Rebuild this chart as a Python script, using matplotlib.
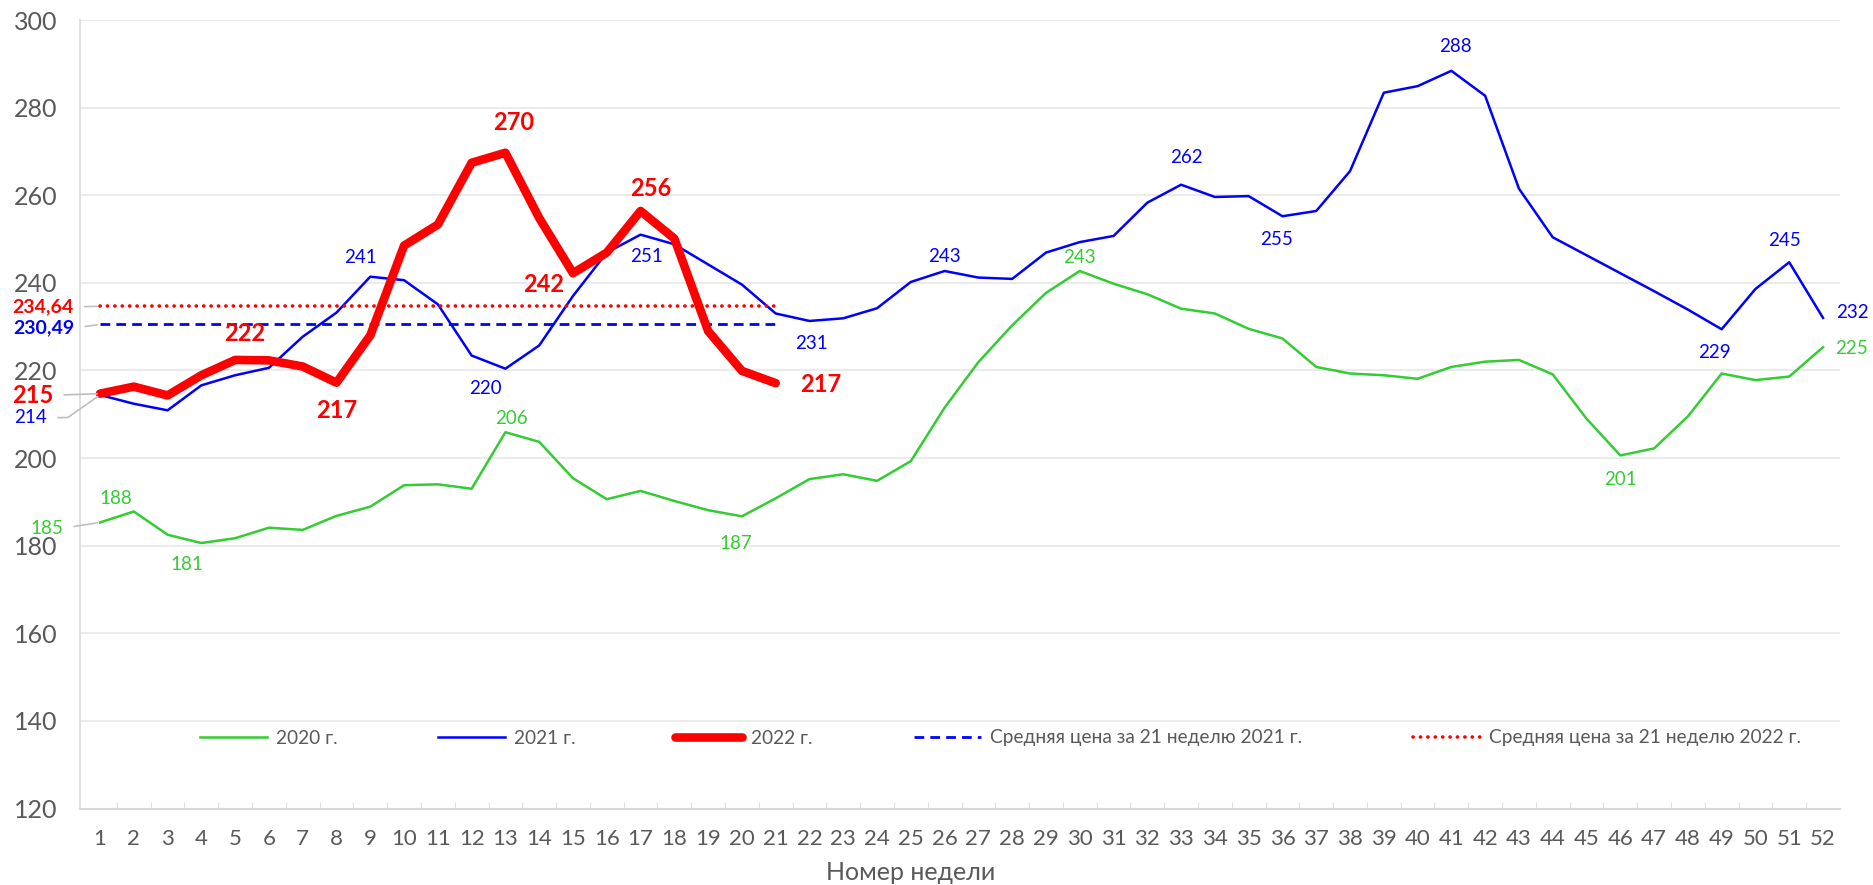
import numpy as np
import matplotlib
matplotlib.use("Agg")
import matplotlib.pyplot as plt
from matplotlib.ticker import FixedLocator

plt.rcParams['font.family'] = ['Lato', 'DejaVu Sans']

weeks = np.arange(1, 53)
y2020 = [185.3, 187.8, 182.5, 180.6, 181.7, 184.1, 183.6, 186.8, 188.9, 193.8,
         194.0, 193.0, 205.9, 203.7, 195.4, 190.6, 192.5, 190.2, 188.1, 186.7,
         190.8, 195.2, 196.3, 194.8, 199.3, 211.5, 221.9, 230.3, 237.7, 242.7,
         239.8, 237.4, 234.1, 233.0, 229.5, 227.3, 220.8, 219.3, 218.9, 218.1,
         220.8, 222.0, 222.4, 219.1, 209.0, 200.6, 202.2, 209.5, 219.3, 217.8,
         218.6, 225.3]
y2021 = [214.4, 212.4, 210.9, 216.6, 218.9, 220.6, 227.7, 233.2, 241.4, 240.6,
         235.1, 223.4, 220.4, 225.7, 237.0, 246.9, 251.0, 248.8, 244.2, 239.6,
         233.0, 231.3, 231.9, 234.2, 240.2, 242.7, 241.2, 240.9, 246.9, 249.3,
         250.7, 258.3, 262.4, 259.6, 259.8, 255.2, 256.4, 265.5, 283.4, 284.9,
         288.4, 282.7, 261.5, 250.4, 246.3, 242.2, 238.1, 233.9, 229.4, 238.6,
         244.7, 232.0]
y2022 = [214.7, 216.3, 214.3, 218.9, 222.4, 222.3, 220.9, 217.2, 228.0, 248.5,
         253.3, 267.4, 269.7, 254.8, 242.2, 246.9, 256.4, 250.1, 229.0, 219.9,
         217.1]
avg2021 = 230.49
avg2022 = 234.64

labels_legend = ['2020 г.', '2021 г.', '2022 г.',
                 'Средняя цена за 21 неделю 2021 г.',
                 'Средняя цена за 21 неделю 2022 г.']

GREEN = '#33CC33'
BLUE = '#0000FF'
RED = '#FF0000'
GRAY = '#595959'
LEAD = '#BFBFBF'

W, H = 1873, 885
fig = plt.figure(figsize=(W / 100, H / 100), dpi=100)
ax = fig.add_axes([80 / W, 1 - 808.5 / H, (1840 - 80) / W, (808.5 - 20) / H])

l20, = ax.plot(weeks, y2020, color=GREEN, lw=1.8, zorder=3)
l21, = ax.plot(weeks, y2021, color=BLUE, lw=1.8, zorder=4)
n22 = len(y2022)
la21, = ax.plot([weeks[0], weeks[n22 - 1]], [avg2021, avg2021], color=BLUE,
                lw=2.0, linestyle=(0, (3.5, 2.2)), zorder=5)
la22, = ax.plot([weeks[0], weeks[n22 - 1]], [avg2022, avg2022], color=RED,
                lw=2.6, linestyle=(0, (0.05, 2.0)), dash_capstyle='round', zorder=5)
l22, = ax.plot(weeks[:n22], y2022, color=RED, lw=6.2, solid_capstyle='round',
               solid_joinstyle='round', zorder=6)

ax.set_xlim(0.408, 52.503)
ax.set_ylim(120, 300)
ax.set_yticks(np.arange(120, 301, 20))
ax.set_xticks(weeks)
ax.xaxis.set_minor_locator(FixedLocator(weeks[:-1] + 0.5))
ax.tick_params(axis='x', which='major', length=0, pad=15, labelsize=16, labelcolor=GRAY)
ax.tick_params(axis='x', which='minor', direction='in', length=5, color='#D9D9D9')
ax.tick_params(axis='y', length=0, pad=16, labelsize=18, labelcolor=GRAY)
ax.grid(axis='y', color='#E8E8E8', lw=1.2)
ax.set_axisbelow(True)
for s in ['top', 'right']:
    ax.spines[s].set_visible(False)
ax.spines['left'].set_color('#D9D9D9')
ax.spines['bottom'].set_color('#D9D9D9')
ax.spines['left'].set_linewidth(1.2)
ax.spines['bottom'].set_linewidth(1.5)

fig.text(911 / W, 1 - 872 / H, 'Номер недели', ha='center', va='center',
         fontsize=18, color=GRAY)

# data labels: (week, dx, dy) in pixels, dy positive = up
lab22 = [(5, 10, 26), (8, 0, -28), (13, 8, 30), (15, -29, -11), (17, 10, 22)]
lab21 = [(9, -10, 19), (13, -20, -20), (17, 6, -22), (22, 2, -23), (26, 0, 15),
         (33, 5, 27), (36, -6, -23), (41, 4, 24), (49, -7, -23), (51, -5, 22)]
lab20 = [(2, -18, 13), (4, -14, -21), (13, 6, 14), (20, -6, -27), (30, 0, 14),
         (46, 0, -24)]

def put(series, specs, color, size, weight):
    for w, dx, dy in specs:
        v = series[w - 1]
        ax.annotate(f'{v:.0f}', (weeks[w - 1], v), xytext=(dx, dy),
                    textcoords='offset pixels', ha='center', va='center',
                    color=color, fontsize=size, fontweight=weight, zorder=8,
                    annotation_clip=False)

put(y2022, lab22, RED, 17, 'bold')
put(y2021, lab21, BLUE, 13.5, 'normal')
put(y2020, lab20, GREEN, 13.5, 'normal')

# labels to the right of the last point
ax.annotate(f'{y2022[-1]:.0f}', (weeks[n22 - 1], y2022[-1]), xytext=(24, -1),
            textcoords='offset pixels', ha='left', va='center', color=RED,
            fontsize=17, fontweight='bold', annotation_clip=False)
ax.annotate(f'{y2021[-1]:.0f}', (weeks[-1], y2021[-1]), xytext=(13, 5),
            textcoords='offset pixels', ha='left', va='center', color=BLUE,
            fontsize=13.5, annotation_clip=False)
ax.annotate(f'{y2020[-1]:.0f}', (weeks[-1], y2020[-1]), xytext=(12, -1),
            textcoords='offset pixels', ha='left', va='center', color=GREEN,
            fontsize=13.5, annotation_clip=False)

# labels left of the axis with leader lines
def lead(text, val, dx, dy, color, size, weight, conn='arc3'):
    ax.annotate(text, (weeks[0], val), xytext=(dx, dy), textcoords='offset pixels',
                ha='right', va='center', color=color, fontsize=size,
                fontweight=weight, annotation_clip=False, zorder=9,
                arrowprops=dict(arrowstyle='-', color=LEAD, lw=1.2,
                                relpos=(1, 0.5), shrinkA=6, shrinkB=2,
                                connectionstyle=conn))

lead(f'{y2022[0]:.0f}', y2022[0], -47, -1.6, RED, 17, 'bold')
lead(f'{y2021[0]:.0f}', y2021[0], -53, -22.6, BLUE, 13.5, 'normal',
     'angle,angleA=0,angleB=35,rad=0')
lead(f'{avg2022:.2f}'.replace('.', ','), avg2022, -26.5, -0.4, RED, 14, 'bold')
lead(f'{avg2021:.2f}'.replace('.', ','), avg2021, -26, -3.5, BLUE, 14, 'bold')
lead(f'{y2020[0]:.0f}', y2020[0], -37, -5.7, GREEN, 13.5, 'normal')

# legend entries, one per slot
handles = [l20, l21, l22, la21, la22]
xs = [200, 438, 675, 914, 1413]
for h, lab, x in zip(handles, labels_legend, xs):
    fig.legend([h], [lab], loc='center left', bbox_to_anchor=(x / W, 1 - 738 / H),
               frameon=False, borderpad=0, borderaxespad=0, handlelength=3.5,
               handletextpad=0.45, fontsize=13.8, labelcolor=GRAY)

fig.savefig('out.png', dpi=100, facecolor='white')
